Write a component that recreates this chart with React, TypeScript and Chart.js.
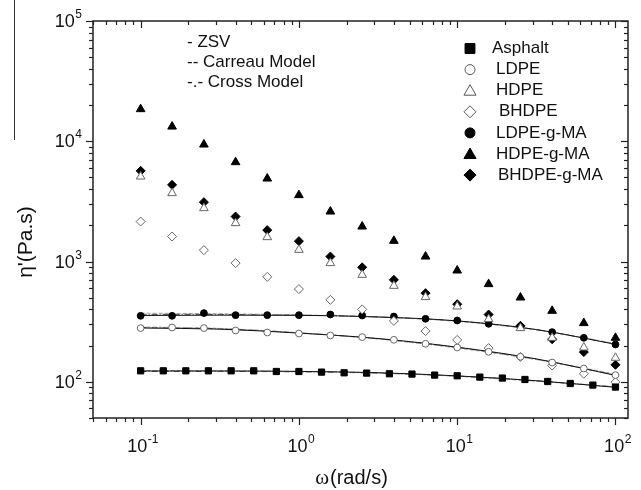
import React, { useEffect, useRef } from 'react';
import { Chart, registerables } from 'chart.js';
import { drawPoint } from 'chart.js/helpers';
Chart.register(...registerables);

// ---------- data ----------
const X_FREQ = [0.1, 0.158, 0.251, 0.398, 0.631, 1, 1.58, 2.51, 3.98, 6.31, 10, 15.8, 25.1, 39.8, 63.1, 100];
const X_ASPHALT = [0.1, 0.139, 0.193, 0.268, 0.373, 0.518, 0.72, 1, 1.39, 1.93, 2.68, 3.73, 5.18, 7.2, 10, 13.9, 19.3, 26.8, 37.3, 51.8, 72, 100];

const ASPHALT = [123.4, 123.4, 123.4, 123.4, 123.4, 123.4, 121.8, 121.8, 120.4, 118.8, 118.1, 116.6, 115.9, 113.7, 112.2, 109.4, 107.4, 104.5, 100.6, 96.8, 93.9, 90.4];
const LDPE = [279.5, 282.7, 279.5, 267, 257, 252, 242.7, 235.3, 223.5, 207, 192.8, 177.6, 161.4, 144.7, 129, 113.7];
const HDPE = [5088, 3703, 2779, 2085, 1595, 1251, 970, 775, 628, 506, 423, 332, 279.5, 232, 192.8, 158.3];
const BHDPE = [2150, 1614, 1244, 970, 746, 590, 480, 400, 321, 264, 223, 190.6, 161, 136.6, 116.6, 99.4];
const LDPE_G_MA = [353.7, 353.7, 372.6, 358.4, 358.4, 358.4, 362.6, 355.7, 349, 334, 323.3, 303.5, 288.3, 258.9, 232.2, 204.2];
const HDPE_G_MA = [18490, 13250, 9389, 6703, 4898, 3565, 2604, 1954, 1486, 1100, 842, 649, 502, 389, 307.6, 232];
const BHDPE_G_MA = [5675, 4341, 3118, 2366, 1824, 1478, 1100, 895, 704, 546, 442, 362.6, 292, 226, 176.6, 138.4];

// model fit curves
const X_FIT = [0.1, 0.316, 1, 3.16, 10, 31.6, 100];
const ASPHALT_ZSV = [123, 123, 122, 119, 112, 102, 90];
const ASPHALT_CARREAU = [124, 123.5, 122, 118.5, 111, 101, 91];
const ASPHALT_CROSS = [122, 122, 121, 118, 111.5, 102, 90.5];
const LDPE_ZSV = [280, 274, 254, 229, 194, 155, 113];
const LDPE_CARREAU = [286, 278, 256, 227, 191, 153, 116];
const LDPE_CROSS = [283, 276, 255, 228, 193, 154, 114];
const LDPEMA_ZSV = [356, 358, 357, 346, 321, 272, 205];
const LDPEMA_CARREAU = [372, 368, 360, 345, 318, 270, 208];
const LDPEMA_CROSS = [364, 363, 358, 346, 320, 271, 206];

const X_TICKS = [0.1, 1, 10, 100];
const X_TICK_EXP = ['-1', '0', '1', '2'];
const Y_TICKS = [100, 1000, 10000, 100000];
const Y_TICK_EXP = ['2', '3', '4', '5'];

const MODEL_NOTES = ['- ZSV', '-- Carreau Model', '-.- Cross Model'];

const SANS = '"Liberation Sans", Arial, sans-serif';

type S = { label: string; xs: number[]; ys: number[]; style: string; filled: boolean; r: number; lr: number; lx: number };
const SERIES: S[] = [
  { label: 'Asphalt', xs: X_ASPHALT, ys: ASPHALT, style: 'rect', filled: true, r: 4.4, lr: 7, lx: 492 },
  { label: 'LDPE', xs: X_FREQ, ys: LDPE, style: 'circle', filled: false, r: 3.4, lr: 5, lx: 496 },
  { label: 'HDPE', xs: X_FREQ, ys: HDPE, style: 'triangle', filled: false, r: 5, lr: 7, lx: 496 },
  { label: 'BHDPE', xs: X_FREQ, ys: BHDPE, style: 'rectRot', filled: false, r: 4.5, lr: 6, lx: 499 },
  { label: 'LDPE-g-MA', xs: X_FREQ, ys: LDPE_G_MA, style: 'circle', filled: true, r: 3.4, lr: 5, lx: 496 },
  { label: 'HDPE-g-MA', xs: X_FREQ, ys: HDPE_G_MA, style: 'triangle', filled: true, r: 5, lr: 7, lx: 496 },
  { label: 'BHDPE-g-MA', xs: X_FREQ, ys: BHDPE_G_MA, style: 'rectRot', filled: true, r: 4.5, lr: 6, lx: 498 },
];

const FITS = [
  { ys: ASPHALT_ZSV, dash: [], color: '#111' },
  { ys: ASPHALT_CARREAU, dash: [4, 2], color: '#999' },
  { ys: ASPHALT_CROSS, dash: [6, 2, 1, 2], color: '#444' },
  { ys: LDPE_ZSV, dash: [], color: '#111' },
  { ys: LDPE_CARREAU, dash: [4, 2], color: '#999' },
  { ys: LDPE_CROSS, dash: [6, 2, 1, 2], color: '#444' },
  { ys: LDPEMA_ZSV, dash: [], color: '#111' },
  { ys: LDPEMA_CARREAU, dash: [4, 2], color: '#999' },
  { ys: LDPEMA_CROSS, dash: [6, 2, 1, 2], color: '#444' },
];

const decorPlugin = {
  id: 'decor',
  afterDraw(chart: any) {
    const { ctx, chartArea: a, scales } = chart;
    const xs = scales.x, ys = scales.y;
    ctx.save();
    ctx.strokeStyle = '#222';
    ctx.lineWidth = 1.5;
    ctx.strokeRect(a.left, a.top, a.right - a.left, a.bottom - a.top);
    const seg = (x1: number, y1: number, x2: number, y2: number) => {
      ctx.beginPath(); ctx.moveTo(x1, y1); ctx.lineTo(x2, y2); ctx.stroke();
    };
    ctx.lineWidth = 1.2;
    for (let e = -2; e <= 5; e++) {
      for (let m = 1; m <= 9; m++) {
        const v = m * Math.pow(10, e);
        const len = m === 1 ? 7 : 4;
        if (v >= xs.min && v <= xs.max) {
          const px = Math.round(xs.getPixelForValue(v)) + 0.5;
          seg(px, a.bottom, px, a.bottom + len);
          seg(px, a.top, px, a.top + len);
        }
        if (v >= ys.min && v <= ys.max) {
          const py = Math.round(ys.getPixelForValue(v)) + 0.5;
          seg(a.left - len, py, a.left, py);
          seg(a.right - len, py, a.right, py);
        }
      }
    }
    // tick labels
    ctx.fillStyle = '#111';
    ctx.textBaseline = 'alphabetic';
    const base = `18px ${SANS}`, sup = `12px ${SANS}`;
    X_TICKS.forEach((v, i) => {
      ctx.font = base; const w1 = ctx.measureText('10').width;
      ctx.font = sup; const w2 = ctx.measureText(X_TICK_EXP[i]).width;
      const px = xs.getPixelForValue(v);
      const x0 = px - (w1 + w2) / 2 + 2;
      ctx.textAlign = 'left';
      ctx.font = base; ctx.fillText('10', x0, a.bottom + 34);
      ctx.font = sup; ctx.fillText(X_TICK_EXP[i], x0 + w1 + 0.5, a.bottom + 25);
    });
    Y_TICKS.forEach((v, i) => {
      ctx.font = sup; const w2 = ctx.measureText(Y_TICK_EXP[i]).width;
      ctx.font = base; const w1 = ctx.measureText('10').width;
      const py = ys.getPixelForValue(v);
      const xr = a.left - 11;
      ctx.textAlign = 'left';
      ctx.font = base; ctx.fillText('10', xr - w1 - w2 - 0.5, py + 6);
      ctx.font = sup; ctx.fillText(Y_TICK_EXP[i], xr - w2, py - 3);
    });
    // x title
    ctx.font = `21px "Liberation Serif", serif`;
    const wo = ctx.measureText('ω').width;
    ctx.font = `20px ${SANS}`;
    const wr = ctx.measureText('(rad/s)').width;
    const cx = 351;
    ctx.textAlign = 'left';
    ctx.font = `21px "Liberation Serif", serif`;
    ctx.fillText('ω', cx - (wo + wr) / 2, 484);
    ctx.font = `20px ${SANS}`;
    ctx.fillText('(rad/s)', cx - (wo + wr) / 2 + wo + 1, 484);
    // y title
    ctx.save();
    ctx.translate(32, 242);
    ctx.rotate(-Math.PI / 2);
    ctx.font = `21px ${SANS}`;
    ctx.textAlign = 'center';
    ctx.fillText("η'(Pa.s)", 0, 0);
    ctx.restore();
    // stray vertical line at left
    ctx.lineWidth = 1;
    ctx.strokeStyle = '#333';
    seg(14.5, 0, 14.5, 140);
    // model notes
    ctx.font = `17px ${SANS}`;
    ctx.textAlign = 'left';
    ctx.textBaseline = 'middle';
    ctx.fillStyle = '#111';
    MODEL_NOTES.forEach((t, i) => ctx.fillText(t, 187, 42 + i * 20.3));
    // legend
    SERIES.forEach((s, i) => {
      const y = 48.5 + i * 21.1;
      ctx.fillStyle = s.filled ? '#000' : '#fff';
      ctx.strokeStyle = s.filled ? '#000' : '#555';
      ctx.lineWidth = 1;
      drawPoint(ctx, { pointStyle: s.style, radius: s.lr, rotation: 0, borderWidth: 1 } as any, 470, y + (s.style === 'triangle' ? 1 : 0));
      ctx.fillStyle = '#111';
      ctx.font = `17px ${SANS}`;
      ctx.fillText(s.label, s.lx, y);
    });
    ctx.restore();
  },
};

export default function App() {
  const ref = useRef<HTMLCanvasElement>(null);
  useEffect(() => {
    const datasets: any[] = [];
    FITS.forEach((f) => {
      datasets.push({
        data: X_FIT.map((x, i) => ({ x, y: f.ys[i] })),
        showLine: true,
        borderColor: f.color,
        borderWidth: 1,
        borderDash: f.dash,
        pointRadius: 0,
        cubicInterpolationMode: 'monotone',
        fill: false,
        order: 2,
      });
    });
    SERIES.forEach((s) => {
      datasets.push({
        label: s.label,
        data: s.xs.map((x, i) => ({ x, y: s.ys[i] })),
        showLine: false,
        pointStyle: s.style,
        pointRadius: s.r,
        pointBackgroundColor: s.filled ? '#000' : '#fff',
        pointBorderColor: s.filled ? '#000' : '#666',
        pointBorderWidth: 1,
        order: 1,
      });
    });
    const chart = new Chart(ref.current!, {
      type: 'scatter',
      data: { datasets },
      options: {
        animation: false,
        responsive: false,
        devicePixelRatio: 1,
        layout: { padding: { left: 93, right: 13, top: 21, bottom: 72 } },
        plugins: { legend: { display: false }, tooltip: { enabled: false } },
        scales: {
          x: { type: 'logarithmic', min: 0.05, max: 120, display: false },
          y: { type: 'logarithmic', min: 50, max: 100000, display: false },
        },
      },
      plugins: [decorPlugin],
    });
    return () => chart.destroy();
  }, []);
  return (
    <div style={{ position: 'fixed', left: 0, top: 0, width: 641, height: 490, background: '#fff' }}>
      <canvas ref={ref} width={641} height={490} />
    </div>
  );
}
